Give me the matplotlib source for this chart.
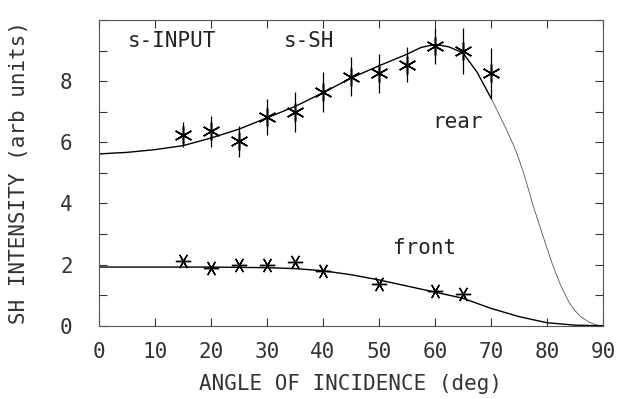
import numpy as np
import matplotlib.pyplot as plt
from matplotlib.ticker import MultipleLocator, FuncFormatter

# measured data points (deg, intensity, error)
rear_angle = [15, 20, 25, 30, 35, 40, 45, 50, 55, 60, 65, 70]
rear_val = [6.25, 6.36, 6.03, 6.82, 6.99, 7.65, 8.14, 8.25, 8.54, 9.16, 8.98, 8.25]
rear_err = [0.40, 0.50, 0.50, 0.58, 0.66, 0.65, 0.64, 0.63, 0.57, 0.59, 0.76, 0.83]

front_angle = [15, 20, 25, 30, 35, 40, 50, 60, 65]
front_val = [2.12, 1.90, 1.99, 1.99, 2.07, 1.79, 1.37, 1.15, 1.04]

# theory curves
rear_curve_x = [0, 5, 10, 15, 20, 25, 30, 35, 40, 45, 50, 55, 57.5, 60, 62.5, 65, 67.5, 70]
rear_curve_y = [5.62, 5.67, 5.76, 5.89, 6.14, 6.43, 6.80, 7.17, 7.62, 8.10, 8.50, 8.88, 9.10, 9.20, 9.12, 8.92, 8.30, 7.45]
rear_tail_x = [70, 71, 72.5, 74, 75, 76, 77.5, 79, 80, 81, 82.5, 84, 85, 86, 87.5, 89, 90]
rear_tail_y = [7.45, 7.08, 6.52, 5.92, 5.45, 4.90, 3.95, 3.10, 2.55, 2.00, 1.30, 0.75, 0.50, 0.30, 0.12, 0.02, 0.0]

front_curve_x = [0, 10, 20, 30, 35, 40, 45, 50, 55, 60, 65, 70, 75, 80, 85, 90]
front_curve_y = [1.92, 1.92, 1.92, 1.90, 1.87, 1.80, 1.67, 1.50, 1.30, 1.10, 0.90, 0.57, 0.30, 0.10, 0.02, 0.0]

plt.rcParams['font.family'] = ['DejaVu Sans Mono', 'DejaVu Sans']
fig = plt.figure(figsize=(6.19, 3.99), dpi=100)
ax = fig.add_axes([0.16, 0.1835, 0.814, 0.7665])

ax.plot(rear_curve_x, rear_curve_y, color='black', lw=1.0)
ax.plot(rear_tail_x, rear_tail_y, color='#555555', lw=0.6)
ax.plot(front_curve_x, front_curve_y, color='black', lw=1.0)

ax.errorbar(rear_angle, rear_val, yerr=rear_err, fmt='none', ecolor='black', elinewidth=0.9, capsize=0)
ax.plot(rear_angle, rear_val, ls='none', marker=(6, 2, 0), ms=13, mew=1.1, color='black')
ax.plot(front_angle, front_val, ls='none', marker=(6, 2, 90), ms=11, mew=1.0, color='black')

ax.set_xlim(0, 90)
ax.set_ylim(0, 10)
ax.xaxis.set_major_locator(MultipleLocator(10))
ax.yaxis.set_major_locator(MultipleLocator(1))
ax.yaxis.set_major_formatter(FuncFormatter(lambda v, p: '%d' % v if int(round(v)) % 2 == 0 and v < 9.5 else ''))
ax.tick_params(direction='in', length=6, width=0.8, top=True, right=True, labelsize=15, colors='#333333')
ax.tick_params(axis='x', pad=12)
ax.tick_params(axis='y', pad=19)
for s in ax.spines.values():
    s.set_linewidth(0.8)
    s.set_color('#555555')

ax.set_xlabel('ANGLE OF INCIDENCE (deg)', fontsize=15, labelpad=8, color='#333333')
ax.set_ylabel('SH INTENSITY (arb units)', fontsize=15, labelpad=22, color='#333333')

ax.text(5.2, 9.3, 's-INPUT', fontsize=15, va='center', ha='left', color='#222222')
ax.text(33, 9.3, 's-SH', fontsize=15, va='center', ha='left', color='#222222')
ax.text(59.5, 6.67, 'rear', fontsize=15, va='center', ha='left', color='#222222')
ax.text(52.5, 2.55, 'front', fontsize=15, va='center', ha='left', color='#222222')

fig.savefig('out.png', dpi=100)
